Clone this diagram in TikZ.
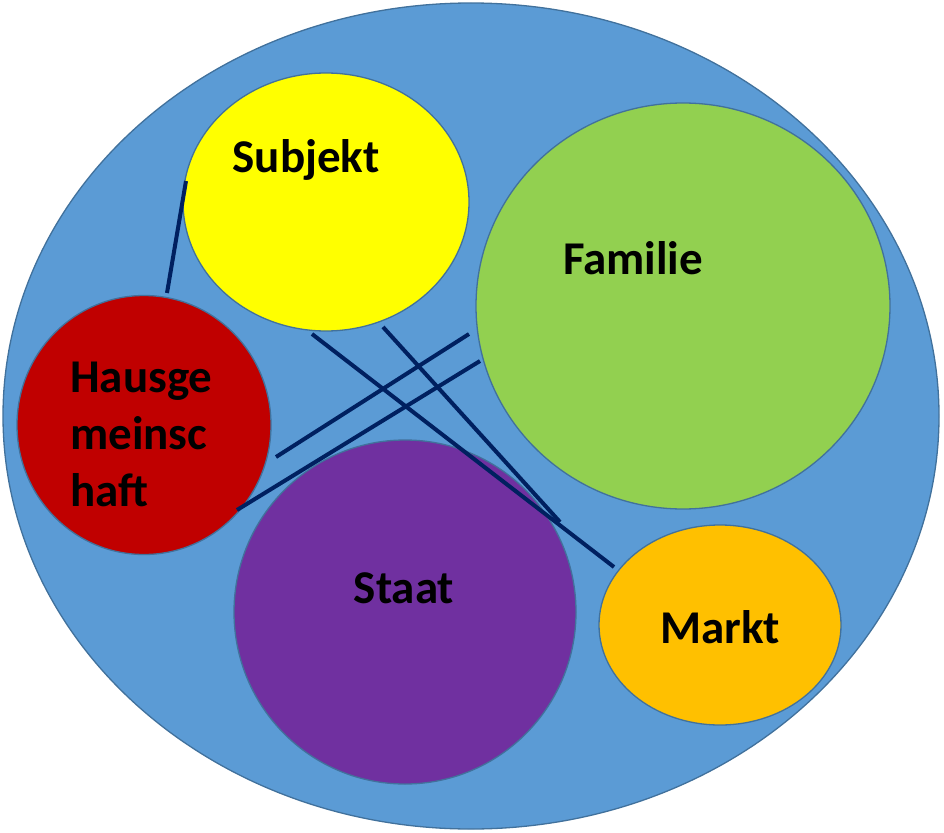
\documentclass[tikz,border=0pt]{standalone}
\usepackage{fontspec}
\setmainfont{Carlito}
\usetikzlibrary{shapes.geometric}
\definecolor{bgblue}{HTML}{5B9BD5}
\definecolor{edgeblue}{HTML}{41719C}
\definecolor{cyellow}{HTML}{FFFF00}
\definecolor{cgreen}{HTML}{92D050}
\definecolor{cred}{HTML}{C00000}
\definecolor{cpurple}{HTML}{7030A0}
\definecolor{corange}{HTML}{FFC000}
\definecolor{linknavy}{HTML}{002060}
\tikzset{
  blob/.style={ellipse, draw=edgeblue, line width=1.3pt, inner sep=0pt},
  lbl/.style={font=\fontsize{47}{57}\selectfont\bfseries, text=black, inner sep=0pt},
  link/.style={draw=linknavy, line width=4pt}
}
\begin{document}
\begin{tikzpicture}[x=1pt,y=-1pt]
\useasboundingbox (0,0) rectangle (944,832);
\node[blob, fill=bgblue, minimum width=936pt, minimum height=826pt] (welt) at (471,416) {};
\node[blob, fill=cyellow, minimum width=286pt, minimum height=258pt] (subjekt) at (326,202) {};
\node[blob, fill=cgreen, minimum width=414pt, minimum height=406pt] (familie) at (683,306) {};
\node[blob, fill=cred, minimum width=254pt, minimum height=259pt] (haus) at (144,425) {};
\node[blob, fill=cpurple, minimum width=342pt, minimum height=344pt] (staat) at (405,612) {};
\node[blob, fill=corange, minimum width=242pt, minimum height=200pt] (markt) at (720,625) {};
\node[lbl] (tsubjekt) at (306,160) {Subjekt};
\node[lbl] (tfamilie) at (633,258) {Familie};
\node[lbl, align=left, anchor=west] (thaus) at (70,434) {Hausge\\meinsc\\haft};
\node[lbl] (tstaat) at (404,588) {Staat};
\node[lbl] (tmarkt) at (720,627) {Markt};
\coordinate (a1) at (186,181);
\coordinate (a2) at (167,293);
\coordinate (b1) at (312,334);
\coordinate (b2) at (614,567);
\coordinate (c1) at (383,327);
\coordinate (c2) at (560,522);
\coordinate (d1) at (469,334);
\coordinate (d2) at (276,457);
\coordinate (e1) at (480,361);
\coordinate (e2) at (237,510);
\draw[link] (a1) -- (a2);
\draw[link] (b1) -- (b2);
\draw[link] (c1) -- (c2);
\draw[link] (d1) -- (d2);
\draw[link] (e1) -- (e2);
\end{tikzpicture}
\end{document}
